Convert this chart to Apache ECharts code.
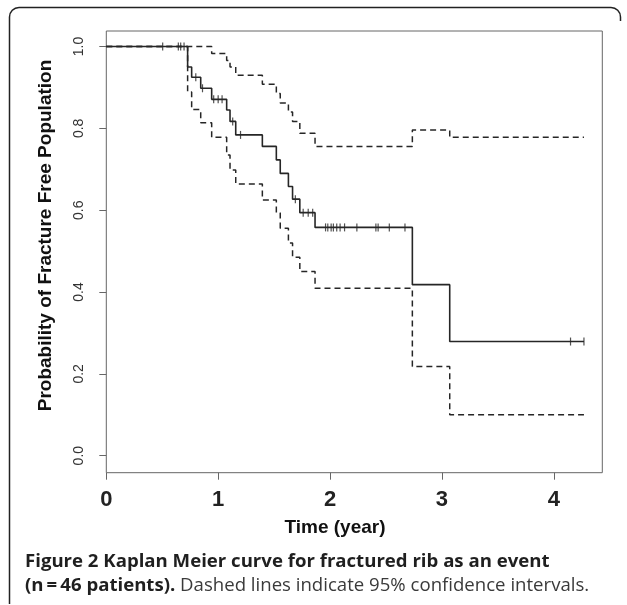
<!DOCTYPE html>
<html>
<head>
<meta charset="utf-8">
<script src="https://cdn.jsdelivr.net/npm/echarts@6/dist/echarts.min.js"></script>
<style>
html,body{margin:0;padding:0;background:#fff;}
#chart{width:627px;height:605px;}
</style>
</head>
<body>
<div id="chart"></div>
<script>
// Kaplan-Meier estimate (event times and survival after each event)
var kmTimes = [0, 0.727, 0.763, 0.844, 0.942, 1.076, 1.106, 1.157, 1.395, 1.52, 1.555, 1.628, 1.665, 1.73, 1.866, 2.736, 3.07, 4.27];
var kmSurv  = [1.0, 0.950, 0.925, 0.898, 0.871, 0.845, 0.817, 0.784, 0.756, 0.723, 0.690, 0.658, 0.627, 0.594, 0.558, 0.418, 0.279, 0.279];
// Upper 95% confidence limit
var upperTimes = [0, 0.942, 1.076, 1.106, 1.157, 1.395, 1.52, 1.555, 1.628, 1.665, 1.73, 1.866, 2.736, 3.07, 4.27];
var upperVals  = [1.0, 0.983, 0.966, 0.950, 0.930, 0.908, 0.885, 0.862, 0.840, 0.817, 0.788, 0.756, 0.796, 0.778, 0.778];
// Lower 95% confidence limit
var lowerTimes = [0, 0.727, 0.763, 0.844, 0.942, 1.076, 1.106, 1.157, 1.395, 1.52, 1.555, 1.628, 1.665, 1.73, 1.866, 2.736, 3.07, 4.27];
var lowerVals  = [1.0, 0.889, 0.846, 0.814, 0.778, 0.735, 0.698, 0.664, 0.625, 0.593, 0.556, 0.52, 0.485, 0.45, 0.409, 0.218, 0.100, 0.100];
// Censored observation times
var censorTimes = [0.504, 0.644, 0.665, 0.695, 0.80, 0.86, 0.96, 1.00, 1.035, 1.13, 1.20, 1.69, 1.76, 1.805, 1.845,
  1.96, 1.98, 2.01, 2.03, 2.06, 2.09, 2.13, 2.24, 2.41, 2.43, 2.53, 2.67, 4.15, 4.27];
// Axis ticks
var xTicks = [0, 1, 2, 3, 4];
var yTicks = [0, 0.2, 0.4, 0.6, 0.8, 1.0];
var yTickLabels = ['0.0', '0.2', '0.4', '0.6', '0.8', '1.0'];

function zip(a, b) { return a.map(function (v, i) { return [v, b[i]]; }); }
function kmAt(t) {
  var s = kmSurv[0];
  for (var i = 0; i < kmTimes.length; i++) { if (kmTimes[i] <= t) s = kmSurv[i]; }
  return s;
}
var censorData = censorTimes.map(function (t) { return [t, kmAt(t)]; });

var chart = echarts.init(document.getElementById('chart'));
var lineColor = '#262626';
var axisColor = '#666';
var frameStyle = { stroke: '#222', lineWidth: 1.5, fill: null };
chart.setOption({
  animation: false,
  backgroundColor: '#fff',
  grid: { left: 106.3, right: 24.7, top: 31, bottom: 132.3, show: true, borderColor: axisColor, borderWidth: 1, backgroundColor: 'transparent' },
  xAxis: {
    type: 'value', min: 0, max: 4.434,
    axisLine: { show: false, onZero: false },
    splitLine: { show: false },
    axisTick: { show: true, length: 7, lineStyle: { color: axisColor, width: 1 }, customValues: xTicks },
    axisLabel: { customValues: xTicks, margin: 16, color: '#222', fontFamily: '"Liberation Sans Narrow", "Liberation Sans", Arial, sans-serif', fontWeight: 'bold', fontSize: 22 }
  },
  yAxis: {
    type: 'value', min: -0.0416, max: 1.038,
    axisLine: { show: false, onZero: false },
    splitLine: { show: false },
    axisTick: { show: true, length: 7, lineStyle: { color: axisColor, width: 1 }, customValues: yTicks },
    axisLabel: { customValues: yTicks, rotate: 90, margin: 20, color: '#333', fontFamily: '"Liberation Sans Narrow", "Liberation Sans", Arial, sans-serif', fontSize: 14,
      formatter: function (v) { var i = yTicks.indexOf(Math.round(v * 10) / 10); return i >= 0 ? yTickLabels[i] : ''; } }
  },
  series: [
    { type: 'line', step: 'end', data: zip(upperTimes, upperVals), symbol: 'none', silent: true,
      lineStyle: { color: lineColor, width: 1.5, type: [6, 4] } },
    { type: 'line', step: 'end', data: zip(lowerTimes, lowerVals), symbol: 'none', silent: true,
      lineStyle: { color: lineColor, width: 1.5, type: [6, 4] } },
    { type: 'line', step: 'end', data: zip(kmTimes, kmSurv), symbol: 'none', silent: true,
      lineStyle: { color: lineColor, width: 1.6 } },
    { type: 'scatter', data: censorData, symbol: 'rect', symbolSize: [1.2, 8], silent: true,
      itemStyle: { color: lineColor } }
  ],
  graphic: [
    { type: 'line', silent: true, shape: { x1: 9.5, y1: 604, x2: 9.5, y2: 17 }, style: frameStyle },
    { type: 'arc', silent: true, shape: { cx: 19, cy: 17, r: 9.5, startAngle: Math.PI, endAngle: Math.PI * 1.5, clockwise: true }, style: frameStyle },
    { type: 'line', silent: true, shape: { x1: 19, y1: 7.5, x2: 611, y2: 7.5 }, style: frameStyle },
    { type: 'arc', silent: true, shape: { cx: 611, cy: 17, r: 9.5, startAngle: Math.PI * 1.5, endAngle: Math.PI * 2, clockwise: true }, style: frameStyle },
    { type: 'line', silent: true, shape: { x1: 620.5, y1: 17, x2: 620.5, y2: 21 }, style: frameStyle },
    { type: 'text', silent: true, x: 46, y: 235.5, rotation: Math.PI / 2,
      style: { text: 'Probability of Fracture Free Population', fill: '#111', font: 'bold 19px "Liberation Sans", Arial, sans-serif', textAlign: 'center', textVerticalAlign: 'middle' } },
    { type: 'text', silent: true, x: 335, y: 528,
      style: { text: 'Time (year)', fill: '#111', font: 'bold 19px "Liberation Sans", Arial, sans-serif', textAlign: 'center', textVerticalAlign: 'middle' } },
    { type: 'text', silent: true, x: 25, y: 550,
      style: {
        text: '{b|Figure 2 Kaplan Meier curve for fractured rib as an event}\n{b|(n\u2009=\u200946 patients).}{r| Dashed lines indicate 95% confidence intervals.}',
        rich: {
          b: { font: 'bold 18.6px "Open Sans", sans-serif', fill: '#1f1f1f', lineHeight: 24 },
          r: { font: '18.6px "Open Sans", sans-serif', fill: '#3a3a3a', lineHeight: 24 }
        },
        textAlign: 'left', textVerticalAlign: 'top'
      } }
  ]
});
</script>
</body>
</html>
